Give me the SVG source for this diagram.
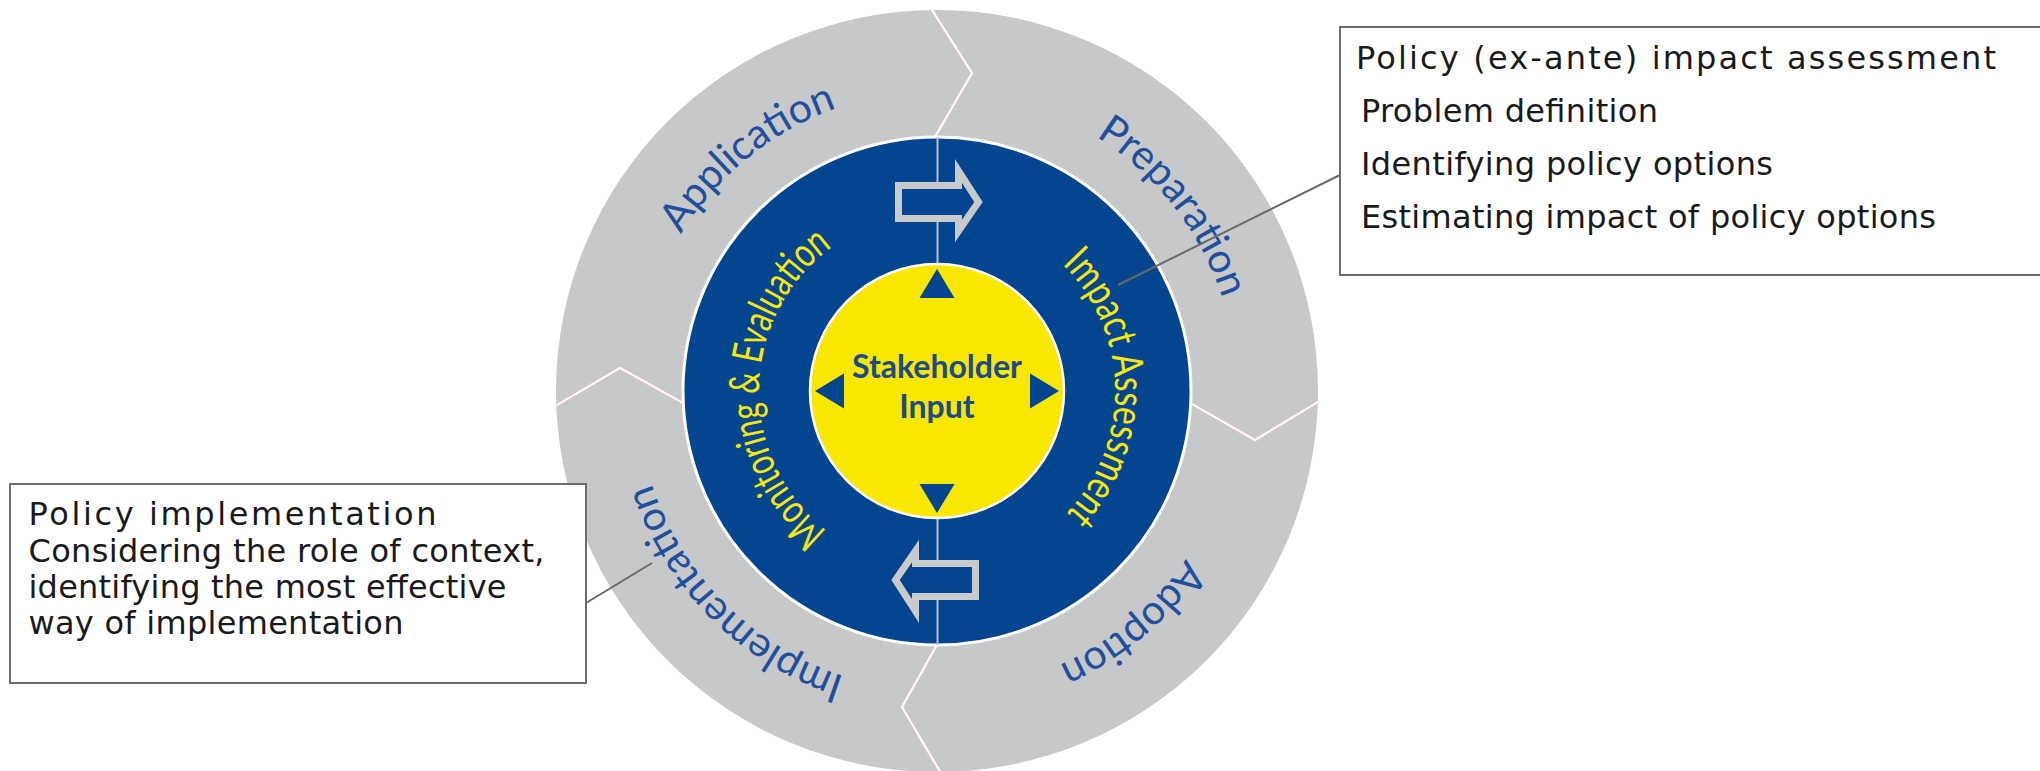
<svg xmlns="http://www.w3.org/2000/svg" width="2040" height="771" viewBox="0 0 2040 771">
  <defs>
    <style>
      .ring { font-family: Lato, "Open Sans", sans-serif; font-size: 41px; fill: #1f4f9d; }
      .inner { font-family: Lato, "Open Sans", sans-serif; font-size: 42px; fill: #f6e80a; }
      .hub { font-family: Lato, "Open Sans", sans-serif; font-weight: 700; font-size: 32px; fill: #1b4a8d; text-anchor: middle; }
      .box { fill: #ffffff; stroke: #6e6e6e; stroke-width: 2; }
      .note { font-family: "DejaVu Sans", Verdana, sans-serif; font-size: 32px; fill: #1a1a1a; }
      .seam-edge { fill: none; stroke: #dcc6c6; stroke-width: 4; stroke-linejoin: miter; }
      .seam { fill: none; stroke: #ffffff; stroke-width: 2; stroke-linejoin: miter; }
      .flow { fill: #03458e; stroke: #c9cacc; stroke-width: 7; stroke-linejoin: miter; }
      .tri { fill: #03458e; }
      .leader { stroke: #6a6a6a; stroke-width: 2; fill: none; }
    </style>
    <!-- baseline arcs for the curved labels (clockwise) -->
    <path id="arcApplication" d="M653.3,488.7 A300,300 0 0 1 1091.5,133.8"/>
    <path id="arcPreparation" d="M844.3,105.7 A300,300 0 0 1 1191.4,550.0"/>
    <path id="arcAdoption" d="M1218.9,288.4 A300,300 0 0 1 787,650.8"/>
    <path id="arcImplementation" d="M1063.8,662.9 A300,300 0 0 1 665.1,264.2"/>
    <path id="arcMonitoring" d="M918.4,568.0 A178,178 0 0 1 924.6,213.4"/>
    <path id="arcImpact" d="M949.4,213.4 A178,178 0 0 1 955.6,568.0"/>
    <polygon id="pointer" points="937,269 919.5,298 954.5,298"/>
  </defs>

  <rect width="2040" height="771" fill="#ffffff"/>

  <!-- outer cycle ring -->
  <g id="outer-ring">
    <circle cx="937" cy="391" r="381" fill="#c7c8ca"/>
    <polyline class="seam-edge" points="932,10 972,73 935,137"/>
    <polyline class="seam" points="932,10 972,73 935,137"/>
    <polyline class="seam-edge" points="557,405 620,368 683,403"/>
    <polyline class="seam" points="557,405 620,368 683,403"/>
    <polyline class="seam-edge" points="1192,404 1255,440 1318,402"/>
    <polyline class="seam" points="1192,404 1255,440 1318,402"/>
    <polyline class="seam-edge" points="938,643 902,707 942,775"/>
    <polyline class="seam" points="938,643 902,707 942,775"/>
    <text class="ring"><textPath href="#arcApplication" startOffset="50%" text-anchor="middle">Application</textPath></text>
    <text class="ring"><textPath href="#arcPreparation" startOffset="50%" text-anchor="middle">Preparation</textPath></text>
    <text class="ring"><textPath href="#arcAdoption" startOffset="50%" text-anchor="middle">Adoption</textPath></text>
    <text class="ring"><textPath href="#arcImplementation" startOffset="50%" text-anchor="middle">Implementation</textPath></text>
  </g>

  <!-- inner ring: evaluation and assessment -->
  <g id="inner-ring">
    <circle cx="937" cy="391" r="254" fill="#03458e" stroke="#ffffff" stroke-width="3"/>
    <line x1="937.5" y1="137" x2="937.5" y2="645" stroke="#b3bfd3" stroke-width="2"/>
    <polygon class="flow" points="898.5,185.5 958.5,185.5 958.5,171 978.5,202 958.5,231 958.5,218.5 898.5,218.5"/>
    <polygon class="flow" transform="rotate(180 937 391)" points="898.5,185.5 958.5,185.5 958.5,171 978.5,202 958.5,231 958.5,218.5 898.5,218.5"/>
    <text class="inner"><textPath href="#arcMonitoring" startOffset="50%" text-anchor="middle" textLength="329" lengthAdjust="spacingAndGlyphs">Monitoring &amp; Evaluation</textPath></text>
    <text class="inner"><textPath href="#arcImpact" startOffset="50%" text-anchor="middle" textLength="276" lengthAdjust="spacingAndGlyphs">Impact Assessment</textPath></text>
  </g>

  <!-- hub -->
  <g id="stakeholder-input">
    <circle cx="937" cy="391" r="127" fill="#f8e700" stroke="#ffffff" stroke-width="2.5"/>
    <use href="#pointer" class="tri"/>
    <use href="#pointer" class="tri" transform="rotate(90 937 391)"/>
    <use href="#pointer" class="tri" transform="rotate(180 937 391)"/>
    <use href="#pointer" class="tri" transform="rotate(270 937 391)"/>
    <text class="hub" x="937" y="378">Stakeholder</text>
    <text class="hub" x="937" y="418">Input</text>
  </g>

  <!-- callout: impact assessment -->
  <g id="note-impact">
    <rect class="box" x="1340" y="27" width="720" height="248"/>
    <text class="note" x="1356" y="69" textLength="640" lengthAdjust="spacing">Policy (ex-ante) impact assessment</text>
    <text class="note" x="1361" y="122" textLength="297" lengthAdjust="spacing">Problem definition</text>
    <text class="note" x="1361" y="175" textLength="412" lengthAdjust="spacing">Identifying policy options</text>
    <text class="note" x="1361" y="228" textLength="575" lengthAdjust="spacing">Estimating impact of policy options</text>
  </g>

  <!-- callout: implementation -->
  <g id="note-implementation">
    <rect class="box" x="10" y="484" width="576" height="199"/>
    <text class="note" x="28.5" y="525" textLength="408" lengthAdjust="spacing">Policy implementation</text>
    <text class="note" x="28.5" y="562" textLength="516" lengthAdjust="spacing">Considering the role of context,</text>
    <text class="note" x="28.5" y="597.5" textLength="478" lengthAdjust="spacing">identifying the most effective</text>
    <text class="note" x="28.5" y="633.5" textLength="375" lengthAdjust="spacing">way of implementation</text>
  </g>

  <!-- leader lines -->
  <g id="connectors">
    <line class="leader" x1="1340" y1="175" x2="1118" y2="285"/>
    <line class="leader" x1="586" y1="603" x2="652" y2="563"/>
  </g>
</svg>
